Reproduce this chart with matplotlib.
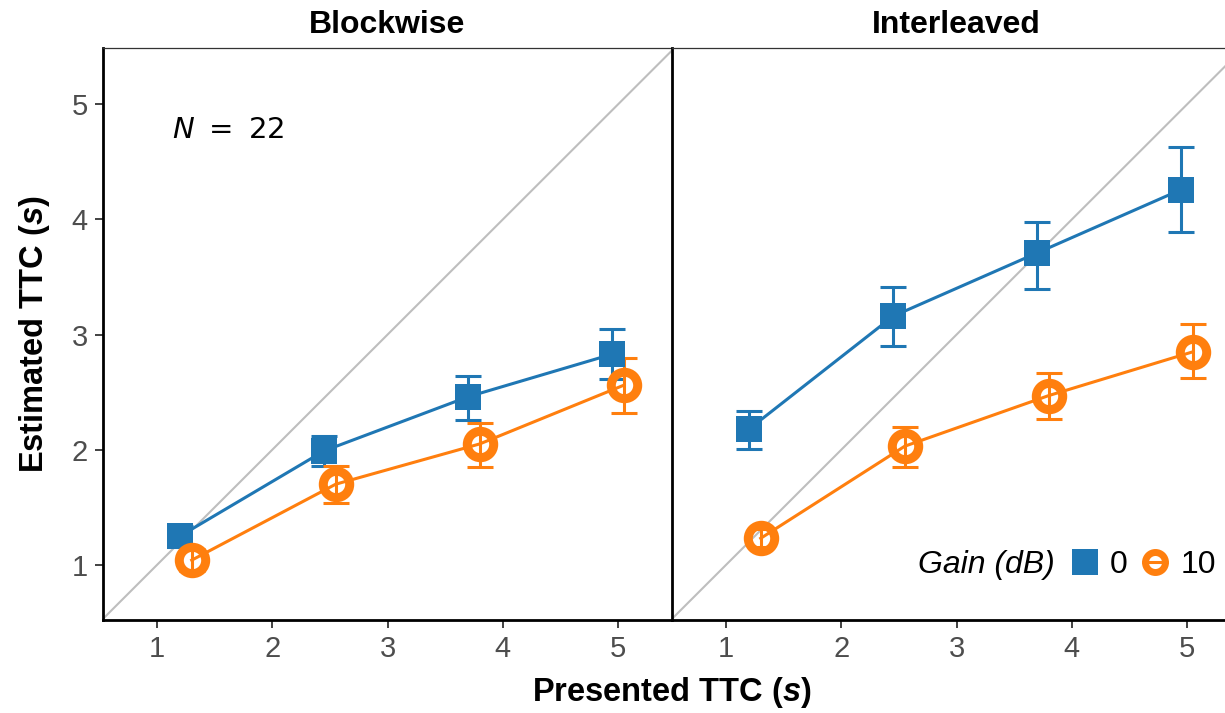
import matplotlib
matplotlib.use("Agg")
import matplotlib.pyplot as plt
from matplotlib.lines import Line2D
import numpy as np

plt.rcParams['font.family'] = ['Liberation Sans', 'DejaVu Sans']
plt.rcParams['mathtext.fontset'] = 'custom'
plt.rcParams['mathtext.rm'] = 'Liberation Sans'
plt.rcParams['mathtext.it'] = 'Liberation Sans:italic'
plt.rcParams['mathtext.bf'] = 'Liberation Sans:bold'
plt.rcParams['mathtext.bfit'] = 'Liberation Sans:italic:bold'

# presented TTC (s), points dodged by gain
ttc = np.array([1.25, 2.5, 3.75, 5.0])
dodge = 0.05
panels = ['Blockwise', 'Interleaved']
gains = ['0', '10']

# mean estimated TTC and error bar limits
block_g0 = [1.25, 1.99, 2.46, 2.83]
block_g0_lo = [1.15, 1.86, 2.26, 2.61]
block_g0_hi = [1.34, 2.12, 2.64, 3.05]
block_g10 = [1.04, 1.70, 2.05, 2.56]
block_g10_lo = [0.95, 1.54, 1.85, 2.32]
block_g10_hi = [1.14, 1.86, 2.23, 2.80]

inter_g0 = [2.18, 3.16, 3.71, 4.26]
inter_g0_lo = [2.01, 2.90, 3.40, 3.89]
inter_g0_hi = [2.34, 3.41, 3.98, 4.63]
inter_g10 = [1.23, 2.03, 2.47, 2.85]
inter_g10_lo = [1.15, 1.85, 2.27, 2.62]
inter_g10_hi = [1.31, 2.20, 2.67, 3.09]

data = {
    'Blockwise': [(block_g0, block_g0_lo, block_g0_hi), (block_g10, block_g10_lo, block_g10_hi)],
    'Interleaved': [(inter_g0, inter_g0_lo, inter_g0_hi), (inter_g10, inter_g10_lo, inter_g10_hi)],
}

blue = '#1F77B4'
orange = '#FF7F0E'
xlim = (0.53, 5.46)
ylim = (0.52, 5.49)

W, H = 1225, 713
fig = plt.figure(figsize=(W / 100, H / 100), dpi=100)
ax1 = fig.add_axes([103 / W, 93 / H, 568 / W, 572 / H])
ax2 = fig.add_axes([672 / W, 93 / H, 568 / W, 572 / H])

for ax, name in zip([ax1, ax2], panels):
    ax.plot(xlim, xlim, color='#BEBEBE', lw=1.5, zorder=1, scalex=False, scaley=False)
    (m0, lo0, hi0), (m1, lo1, hi1) = data[name]
    for (m, lo, hi), off, col, mk in [((m0, lo0, hi0), -dodge, blue, 's'),
                                      ((m1, lo1, hi1), dodge, orange, 'o')]:
        m = np.array(m)
        x = ttc + off
        yerr = [m - np.array(lo), np.array(hi) - m]
        ax.errorbar(x, m, yerr=yerr, fmt='none', ecolor=col, elinewidth=2.2,
                    capsize=9.4, capthick=2.2, zorder=3)
        ax.plot(x, m, color=col, lw=2.2, zorder=2)
        if mk == 's':
            ax.plot(x, m, ls='none', marker='s', ms=19, color=col, mec=col, mew=0, zorder=4)
        else:
            ax.plot(x, m, ls='none', marker='o', ms=19, mfc='none', mec=col, mew=6.5, zorder=4)
    ax.set_xlim(*xlim)
    ax.set_ylim(*ylim)
    ax.set_xticks([1, 2, 3, 4, 5])
    ax.set_yticks([1, 2, 3, 4, 5])
    ax.tick_params(axis='both', direction='out', length=6, width=1.3, color='#333333',
                   labelsize=21, labelcolor='#4D4D4D', pad=5)
    for s in ['left', 'bottom']:
        ax.spines[s].set_linewidth(2)
        ax.spines[s].set_color('black')
    ax.spines['right'].set_visible(False)
    ax.spines['top'].set_linewidth(0.9)
    ax.spines['top'].set_color('#333333')
    ax.set_title(name, fontsize=23, fontweight='bold', pad=11)

ax2.tick_params(axis='y', length=0, labelleft=False)

ax1.text(1.13, 4.78, r'$N\ =\ 22$', fontsize=21, ha='left', va='center',
         math_fontfamily='dejavusans')

ax1.set_ylabel(r'Estimated TTC ($\mathbfit{s}$)', fontsize=23.5, fontweight='bold', labelpad=14)
fig.text((103 + 1240) / 2 / W, 21 / H, r'Presented TTC ($\mathbfit{s}$)', fontsize=23.5,
         fontweight='bold', ha='center', va='center')

handles = [Line2D([], [], color=blue, lw=2.2, marker='s', ms=19.4, mew=0,
                  solid_capstyle='butt'),
           Line2D([], [], color=orange, lw=2.2, marker='o', ms=14.4, mfc='none', mec=orange,
                  mew=5, solid_capstyle='butt')]
ax2.legend(handles, gains, ncol=2, frameon=False, fontsize=23, loc='center left',
           bbox_to_anchor=(0.704, 0.096), handlelength=0.8, handletextpad=0.4,
           columnspacing=0.45, borderpad=0, borderaxespad=0)
ax2.text(0.674, 0.096, 'Gain (dB)', transform=ax2.transAxes, fontsize=23, style='italic',
         ha='right', va='center')

fig.savefig('out.png', dpi=100)
